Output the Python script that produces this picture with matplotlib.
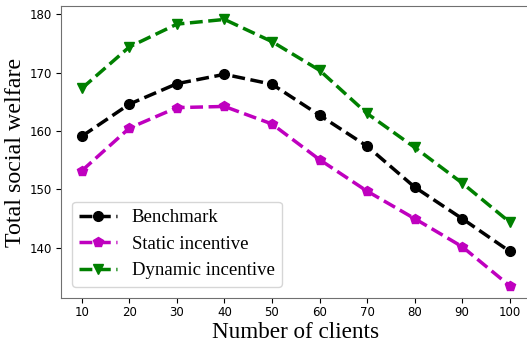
import numpy as np
import matplotlib.pyplot as plt

clients = [10, 20, 30, 40, 50, 60, 70, 80, 90, 100]
benchmark = [159.1, 164.6, 168.1, 169.7, 168.0, 162.7, 157.4, 150.4, 145.0, 139.4]
static_inc = [153.2, 160.5, 164.0, 164.2, 161.2, 155.1, 149.7, 145.0, 140.2, 133.5]
dynamic_inc = [167.3, 174.4, 178.3, 179.1, 175.3, 170.4, 163.0, 157.2, 151.1, 144.4]

serif = 'Liberation Serif'

fig = plt.figure(figsize=(5.27, 3.45), dpi=100)
# axes run slightly past the right edge of the canvas
ax = fig.add_axes([60.5 / 527, 1 - 298 / 345, (531 - 60.5) / 527, (298 - 6) / 345])

ax.plot(clients, benchmark, 'k--', marker='o', markersize=7, linewidth=2.5, label='Benchmark')
ax.plot(clients, static_inc, 'm--', marker='p', markersize=7.5, linewidth=2.5, label='Static incentive')
ax.plot(clients, dynamic_inc, 'g--', marker='v', markersize=7.5, linewidth=2.5, label='Dynamic incentive')

ax.set_xlim(5.5, 104.5)
ax.set_ylim(131.4, 181.4)
ax.set_xticks(clients)
ax.set_yticks([140, 150, 160, 170, 180])
ax.tick_params(labelsize=8.5, pad=2.5)
for s in ax.spines.values():
    s.set_color('#707070')

ax.set_xlabel('Number of clients', fontsize=16.7, family=serif, labelpad=2)
ax.set_ylabel('Total social welfare', fontsize=17.3, family=serif, labelpad=3)
ax.legend(loc='lower left', prop={'family': serif, 'size': 13.5}, borderaxespad=0.6)

fig.savefig('out.png', dpi=100)
